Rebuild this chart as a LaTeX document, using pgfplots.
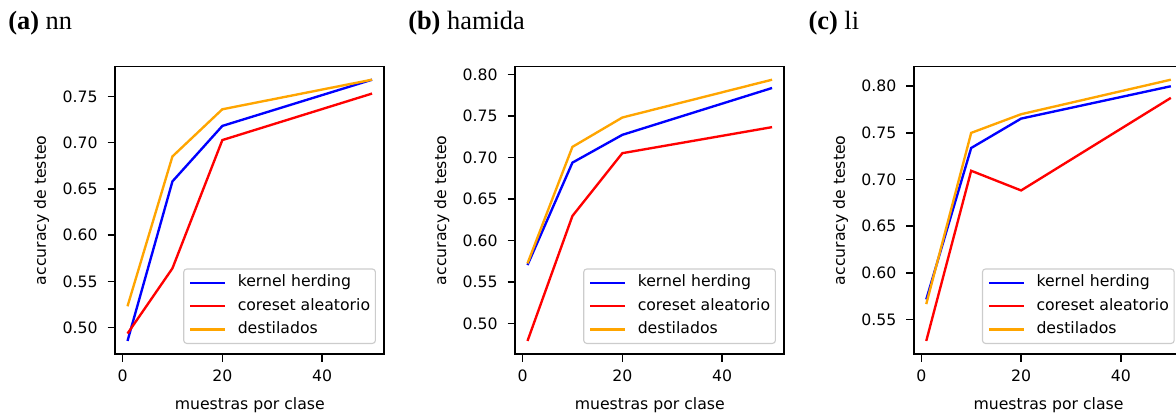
\documentclass[border=0pt]{standalone}
\usepackage{fontspec}
\setmainfont{DejaVu Sans}
\newfontfamily\titlefont{Liberation Serif}
\usepackage{pgfplots}
\pgfplotsset{compat=1.18}

\definecolor{kh}{RGB}{0,0,255}
\definecolor{cr}{RGB}{255,0,0}
\definecolor{ds}{RGB}{255,165,0}

\pgfplotsset{
  panel/.style={
    scale only axis, width=193.7pt, height=206.9pt,
    anchor=south west,
    xmin=-1.45, xmax=52.45,
    xtick={0,20,40},
    tick align=outside, xtick pos=bottom, ytick pos=left,
    major tick length=5.5pt,
    every tick/.style={black, line width=1.1pt},
    axis line style={line width=1.2pt},
    font=\fontsize{11.3}{13.5}\selectfont,
    /pgf/number format/assume math mode=true,
    yticklabel style={/pgf/number format/fixed, /pgf/number format/fixed zerofill,
      /pgf/number format/precision=2, anchor=east, inner sep=0pt, xshift=-7pt},
    xticklabel style={anchor=base, inner sep=0pt, yshift=-14pt},
    xlabel={muestras por clase},
    ylabel={accuracy de testeo},
    xlabel style={at={(axis description cs:0.5,-0.1948)}, anchor=base, inner sep=0pt},
    ylabel style={at={(axis description cs:-0.2736,0.5)}, anchor=center, inner sep=0pt},
    legend cell align=left,
    legend image code/.code={\draw[#1, line width=1.7pt] (0pt,0pt) -- (25pt,0pt);},
    legend style={
      at={(1,0)}, anchor=south east, xshift=-6pt, yshift=7.2pt,
      draw=black!20, line width=0.8pt, rounded corners=2.2pt,
      fill=white, fill opacity=0.8, text opacity=1,
      font=\fontsize{11.3}{13.5}\selectfont,
      inner xsep=3.8pt, inner ysep=4.5pt, row sep=5.8pt, column sep=8.4pt,
      nodes={inner sep=0pt, text height=8.4pt, text depth=2.6pt},
    },
    every axis plot/.append style={line width=1.7pt},
  }
}

\begin{document}
\begin{tikzpicture}
\path[use as bounding box] (0,0) rectangle (846.72pt,300.24pt);

% titles of the three panels
\node[anchor=base west, inner sep=0pt, font=\titlefont\fontsize{19}{22}\selectfont]
  at (5.76pt,279.1pt) {\textbf{(a)} nn};
\node[anchor=base west, inner sep=0pt, font=\titlefont\fontsize{19}{22}\selectfont]
  at (293.76pt,279.1pt) {\textbf{(b)} hamida};
\node[anchor=base west, inner sep=0pt, font=\titlefont\fontsize{19}{22}\selectfont]
  at (581.98pt,279.1pt) {\textbf{(c)} li};

% (a) nn
\begin{axis}[panel, at={(83.0pt,45.36pt)},
  ymin=0.4714, ymax=0.7821, ytick={0.50,0.55,0.60,0.65,0.70,0.75}]
\addplot[kh] coordinates {(1,0.4855) (10,0.658) (20,0.718) (50,0.768)};
\addplot[cr] coordinates {(1,0.4935) (10,0.564) (20,0.7027) (50,0.753)};
\addplot[ds] coordinates {(1,0.523) (10,0.685) (20,0.736) (50,0.768)};
\legend{kernel herding, coreset aleatorio, destilados}
\end{axis}

% (b) hamida
\begin{axis}[panel, at={(371.0pt,45.36pt)},
  ymin=0.46325, ymax=0.80975, ytick={0.50,0.55,0.60,0.65,0.70,0.75,0.80}]
\addplot[kh] coordinates {(1,0.5705) (10,0.694) (20,0.7275) (50,0.784)};
\addplot[cr] coordinates {(1,0.479) (10,0.6297) (20,0.7054) (50,0.7368)};
\addplot[ds] coordinates {(1,0.5725) (10,0.713) (20,0.7484) (50,0.794)};
\legend{kernel herding, coreset aleatorio, destilados}
\end{axis}

% (c) li
\begin{axis}[panel, at={(658.1pt,45.36pt)},
  ymin=0.513, ymax=0.821, ytick={0.55,0.60,0.65,0.70,0.75,0.80}]
\addplot[kh] coordinates {(1,0.5715) (10,0.7338) (20,0.7653) (50,0.800)};
\addplot[cr] coordinates {(1,0.527) (10,0.7094) (20,0.6883) (50,0.7875)};
\addplot[ds] coordinates {(1,0.5665) (10,0.750) (20,0.770) (50,0.807)};
\legend{kernel herding, coreset aleatorio, destilados}
\end{axis}
\end{tikzpicture}
\end{document}
